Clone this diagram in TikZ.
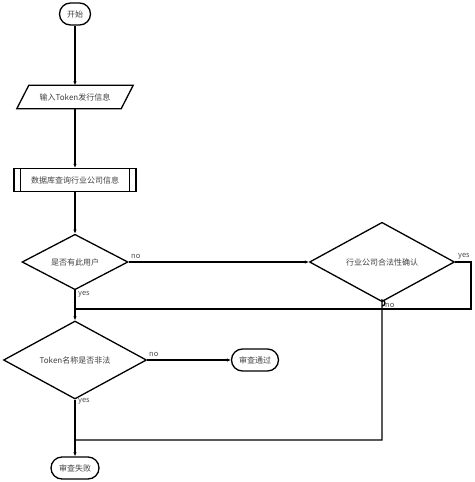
\documentclass[tikz,border=0pt]{standalone}
\usepackage{fontspec}
\setmainfont{Noto Sans CJK SC}
\usetikzlibrary{shapes.geometric,arrows.meta,calc}
\begin{document}
\begin{tikzpicture}[x=1pt,y=-1pt,
  every node/.style={font=\fontsize{8}{9}\selectfont, text=black!75},
  line/.style={line width=1.3pt, draw=black},
  arr/.style={line, -{Latex[length=4pt,width=3.5pt]}},
  term/.style={line, rectangle, rounded corners=11pt, minimum height=22pt, inner sep=0pt},
  dec/.style={line, diamond, inner sep=0pt},
  lbl/.style={font=\fontsize{7.5}{8}\selectfont, inner sep=0pt, text=black!70}]
\useasboundingbox (0,0) rectangle (474,482);
\node[term, minimum width=31pt] (start) at (75,14) {开始};
\node[minimum width=104pt, minimum height=23pt, inner sep=0pt] (in) at (75,97) {输入Token发行信息};
\draw[line] ([xshift=-6pt]in.south west) -- ([xshift=6pt]in.north west) -- ([xshift=6pt]in.north east) -- ([xshift=-6pt]in.south east) -- cycle;
\node[line, rectangle, minimum width=122pt, minimum height=23pt, inner sep=0pt] (db) at (75,180) {数据库查询行业公司信息};
\draw[line] ([xshift=7pt]db.north west) -- ([xshift=7pt]db.south west);
\draw[line] ([xshift=-7pt]db.north east) -- ([xshift=-7pt]db.south east);
\node[dec, minimum width=106pt, minimum height=52pt] (d1) at (75,262) {是否有此用户};
\node[dec, minimum width=145pt, minimum height=73pt] (d2) at (382,262) {行业公司合法性确认};
\node[dec, minimum width=143pt, minimum height=71pt] (d3) at (75,360) {Token名称是否非法};
\node[term, minimum width=47pt] (pass) at (255,360) {审查通过};
\node[term, minimum width=48pt] (fail) at (75,468) {审查失败};
\coordinate (j1) at (75,309);
\coordinate (j2) at (75,440);
\coordinate (r1) at (471,262);
\coordinate (r2) at (471,309);
\coordinate (h1) at (382,306);
\coordinate (b2) at (382,440);
\draw[arr] (start) -- (in);
\draw[arr] (in) -- (db);
\draw[arr] (db) -- (d1);
\draw[arr] (d1.east) -- (d2.west);
\draw[arr] (d1.south) -- (d3.north);
\draw[line] (d2.east) -- (r1) -- (r2) -- (j1);
\draw[line] (d2.south) -- (h1) arc[start angle=-90, end angle=90, radius=3pt] -- (b2) -- (j2);
\draw[arr] (d3.east) -- (pass.west);
\draw[arr] (d3.south) -- (fail.north);
\node[lbl, anchor=south west] (n1) at (131,259) {no};
\node[lbl, anchor=south west] (y2) at (458,259) {yes};
\node[lbl, anchor=north west] (y1) at (78,291) {yes};
\node[lbl, anchor=south west] (n2) at (385,308) {no};
\node[lbl, anchor=south west] (n3) at (149,357) {no};
\node[lbl, anchor=north west] (y3) at (78,398) {yes};
\end{tikzpicture}
\end{document}
